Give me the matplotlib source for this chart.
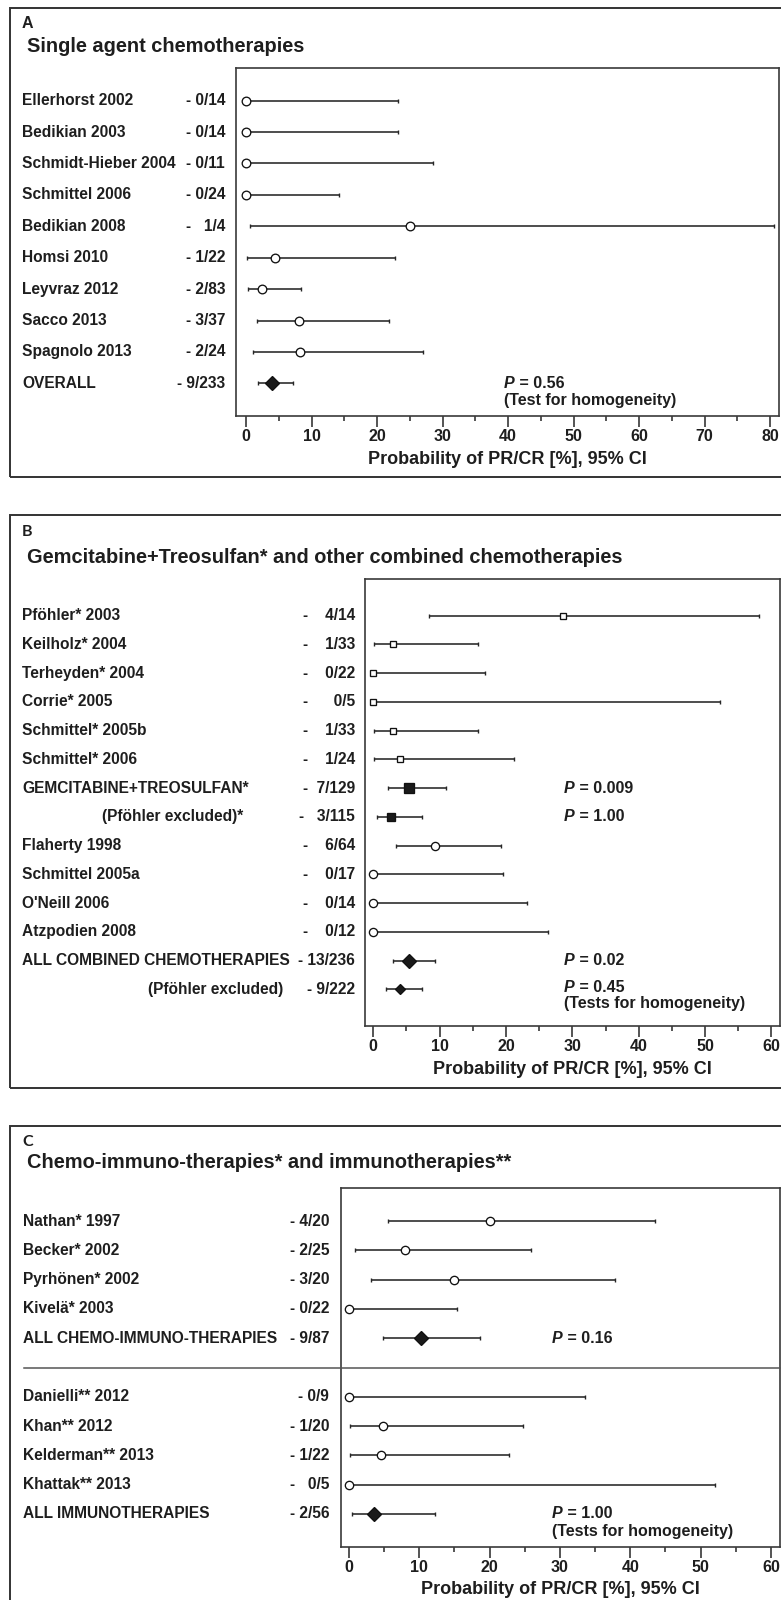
import matplotlib
matplotlib.use("Agg")
import matplotlib.pyplot as plt
from matplotlib.patches import Rectangle
from matplotlib.lines import Line2D
from matplotlib.ticker import MultipleLocator
from matplotlib.transforms import blended_transform_factory, offset_copy

# ---- data: panel A (single agent chemotherapies) ----
a_studies = ["Ellerhorst 2002", "Bedikian 2003", "Schmidt-Hieber 2004", "Schmittel 2006",
             "Bedikian 2008", "Homsi 2010", "Leyvraz 2012", "Sacco 2013", "Spagnolo 2013", "OVERALL"]
a_counts = ["- 0/14", "- 0/14", "- 0/11", "- 0/24", "-   1/4", "- 1/22", "- 2/83", "- 3/37",
            "- 2/24", "- 9/233"]
a_est = [0, 0, 0, 0, 25.0, 4.5, 2.4, 8.1, 8.3, 3.9]
a_low = [0, 0, 0, 0, 0.6, 0.1, 0.3, 1.7, 1.0, 1.8]
a_high = [23.2, 23.2, 28.5, 14.2, 80.6, 22.8, 8.4, 21.9, 27.0, 7.2]
a_pvalues = ["0.56"]

# ---- data: panel B (gemcitabine+treosulfan and other combinations) ----
b_studies = ["Pföhler* 2003", "Keilholz* 2004", "Terheyden* 2004", "Corrie* 2005",
             "Schmittel* 2005b", "Schmittel* 2006", "GEMCITABINE+TREOSULFAN*",
             "(Pföhler excluded)*", "Flaherty 1998", "Schmittel 2005a", "O'Neill 2006",
             "Atzpodien 2008", "ALL COMBINED CHEMOTHERAPIES", "(Pföhler excluded)"]
b_counts = ["-    4/14", "-    1/33", "-    0/22", "-      0/5", "-    1/33", "-    1/24",
            "-  7/129", "-   3/115", "-    6/64", "-    0/17", "-    0/14", "-    0/12",
            "- 13/236", "- 9/222"]
b_est = [28.6, 3.0, 0, 0, 3.0, 4.1, 5.4, 2.6, 9.3, 0, 0, 0, 5.4, 4.0]
b_low = [8.4, 0.1, 0, 0, 0.1, 0.1, 2.2, 0.6, 3.4, 0, 0, 0, 3.0, 1.9]
b_high = [58.2, 15.8, 16.9, 52.3, 15.8, 21.2, 10.9, 7.4, 19.2, 19.5, 23.1, 26.4, 9.3, 7.4]
b_pvalues = ["0.009", "1.00", "0.02", "0.45"]

# ---- data: panel C (chemo-immuno-therapies and immunotherapies) ----
c_studies = ["Nathan* 1997", "Becker* 2002", "Pyrhönen* 2002", "Kivelä* 2003",
             "ALL CHEMO-IMMUNO-THERAPIES", "Danielli** 2012", "Khan** 2012",
             "Kelderman** 2013", "Khattak** 2013", "ALL IMMUNOTHERAPIES"]
c_counts = ["- 4/20", "- 2/25", "- 3/20", "- 0/22", "- 9/87", "- 0/9", "- 1/20", "- 1/22",
            "-   0/5", "- 2/56"]
c_est = [20.0, 7.9, 14.9, 0, 10.3, 0, 4.9, 4.5, 0, 3.5]
c_low = [5.6, 0.9, 3.2, 0, 4.8, 0, 0.1, 0.1, 0, 0.4]
c_high = [43.5, 25.9, 37.8, 15.4, 18.7, 33.5, 24.8, 22.7, 52.1, 12.3]
c_pvalues = ["0.16", "1.00"]

XLABEL = "Probability of PR/CR [%], 95% CI"

plt.rcParams["font.family"] = ["Liberation Sans", "DejaVu Sans"]
plt.rcParams["font.weight"] = "bold"

W, H = 781, 1600
INK = "#1e1e1e"
LINE = "#262626"
FS = 11.2
fig = plt.figure(figsize=(W / 100, H / 100), dpi=100)
fig.patch.set_facecolor("white")


def make_axes(x0, x1, y0, y1):
    return fig.add_axes([x0 / W, 1 - y1 / H, (x1 - x0) / W, (y1 - y0) / H])


def outer_box(y0, y1):
    fig.add_artist(Rectangle((10 / W, 1 - y1 / H), 1.0, (y1 - y0) / H, transform=fig.transFigure,
                             fill=False, edgecolor="#333333", linewidth=1.4))


def style_axes(ax, xlim, ylim, xmax_tick):
    ax.set_xlim(*xlim)
    ax.set_ylim(*ylim)
    ax.set_yticks([])
    ax.xaxis.set_minor_locator(MultipleLocator(5))
    ax.set_xticks(range(0, xmax_tick + 1, 10))
    ax.tick_params(axis="x", which="major", direction="out", length=7.7, width=1.1,
                   color=LINE, pad=2.0, labelsize=11.5, labelcolor=INK)
    ax.tick_params(axis="x", which="minor", direction="out", length=3.8, width=1.1, color=LINE)
    for t in ax.get_xticklabels():
        t.set_fontweight("bold")
    for s in ax.spines.values():
        s.set_color("#3a3a3a")
        s.set_linewidth(1.2)


def forest(ax, rows, est, low, high, styles):
    for r, e, lo, hi, (mk, ms, fc) in zip(rows, est, low, high, styles):
        ax.errorbar([e], [r], xerr=[[e - lo], [hi - e]], fmt="none", ecolor=LINE,
                    elinewidth=1.15, capsize=1.6, capthick=1.0, zorder=2)
        ax.plot([e], [r], marker=mk, ms=ms, mfc=fc, mec="#111111", mew=0.95,
                linestyle="none", zorder=3, clip_on=False)


def row_labels(ax, rows, names, counts, name_x, count_right, name_right=None):
    trans = blended_transform_factory(fig.transFigure, ax.transData)
    name_right = name_right or {}
    for i, (r, n, c) in enumerate(zip(rows, names, counts)):
        if i in name_right:
            ax.text(name_right[i] / W, r, n, transform=trans, ha="right", va="center",
                    fontsize=FS, color=INK)
        else:
            ax.text(name_x / W, r, n, transform=trans, ha="left", va="center",
                    fontsize=FS, color=INK)
        ax.text(count_right / W, r, c, transform=trans, ha="right", va="center",
                fontsize=FS, color=INK)


def p_text(ax, x, r, value, note=None, note_dy=0.55):
    ax.text(x, r, "P", style="italic", fontsize=11.5, va="center", ha="left", color=INK)
    t2 = offset_copy(ax.transData, fig=fig, x=7.8, y=0, units="points")
    ax.text(x, r, " = " + value, transform=t2, fontsize=11.5, va="center", ha="left", color=INK)
    if note:
        ax.text(x, r + note_dy, note, fontsize=11.5, va="center", ha="left", color=INK)


def header(letter, title, y_letter, y_title, letter_font=None):
    fig.text(22 / W, 1 - y_letter / H, letter, fontsize=11.5, va="center", ha="left",
             color=INK, family=letter_font or ["Liberation Sans", "DejaVu Sans"])
    fig.text(27 / W, 1 - y_title / H, title, fontsize=14.4, va="center", ha="left", color=INK)


def xlabel(x0, x1, y):
    fig.text((x0 + x1) / 2 / W, 1 - y / H, XLABEL, fontsize=13, ha="center", va="center",
             color=INK)


open_c = "white"
dark = "#1a1a1a"

# ---------------- panel A ----------------
outer_box(7.5, 476.7)
header("A", "Single agent chemotherapies", 23.5, 46.5)
axA = make_axes(236, 779, 68, 415.7)
a_rows = list(range(len(a_studies)))
style_axes(axA, (-1.53, 81.37), (10.03, -1.04), 80)
a_styles = [("o", 6.2, open_c)] * 9 + [("D", 7.6, dark)]
forest(axA, a_rows, a_est, a_low, a_high, a_styles)
row_labels(axA, a_rows, a_studies, a_counts, 22, 225)
p_text(axA, 39.4, a_rows[-1], a_pvalues[0], "(Test for homogeneity)", 0.54)
xlabel(236, 779, 460)

# ---------------- panel B ----------------
outer_box(515, 1088)
header("B", "Gemcitabine+Treosulfan* and other combined chemotherapies", 531.7, 557.5,
       ["Lato", "DejaVu Sans"])
axB = make_axes(365, 780, 579, 1026)
b_rows = list(range(len(b_studies)))
style_axes(axB, (-1.25, 61.3), (14.28, -1.28), 60)
b_styles = ([("s", 5.0, open_c)] * 6 + [("s", 7.9, dark), ("s", 6.0, dark)]
            + [("o", 5.9, open_c)] * 4 + [("D", 7.6, dark), ("D", 5.4, dark)])
forest(axB, b_rows, b_est, b_low, b_high, b_styles)
row_labels(axB, b_rows, b_studies, b_counts, 22, 355, {7: 243.5, 13: 283})
p_text(axB, 28.7, b_rows[6], b_pvalues[0])
p_text(axB, 28.7, b_rows[7], b_pvalues[1])
p_text(axB, 28.7, b_rows[12], b_pvalues[2])
p_text(axB, 28.7, b_rows[13] - 0.05, b_pvalues[3], "(Tests for homogeneity)", 0.55)
xlabel(365, 780, 1070)

# ---------------- panel C ----------------
outer_box(1126, 1640)
header("C", "Chemo-immuno-therapies* and immunotherapies**", 1141.5, 1162,
       ["Lato", "DejaVu Sans"])
axC = make_axes(340.6, 780, 1188.3, 1546.7)
c_rows = [0, 1, 2, 3, 4, 6, 7, 8, 9, 10]
style_axes(axC, (-1.19, 61.3), (11.12, -1.12), 60)
c_styles = ([("o", 6.0, open_c)] * 4 + [("D", 7.5, dark)]
            + [("o", 6.0, open_c)] * 4 + [("D", 7.5, dark)])
forest(axC, c_rows, c_est, c_low, c_high, c_styles)
row_labels(axC, c_rows, c_studies, c_counts, 23, 329)
p_text(axC, 28.9, c_rows[4], c_pvalues[0])
p_text(axC, 28.9, c_rows[-1], c_pvalues[1], "(Tests for homogeneity)", 0.61)
# separator between chemo-immuno and immuno groups
sep_trans = blended_transform_factory(fig.transFigure, axC.transData)
fig.add_artist(Line2D([24 / W, 1.0], [5, 5], transform=sep_trans, color="#555555", linewidth=1.1))
xlabel(340.6, 780, 1590)

fig.savefig("out.png", dpi=100)
